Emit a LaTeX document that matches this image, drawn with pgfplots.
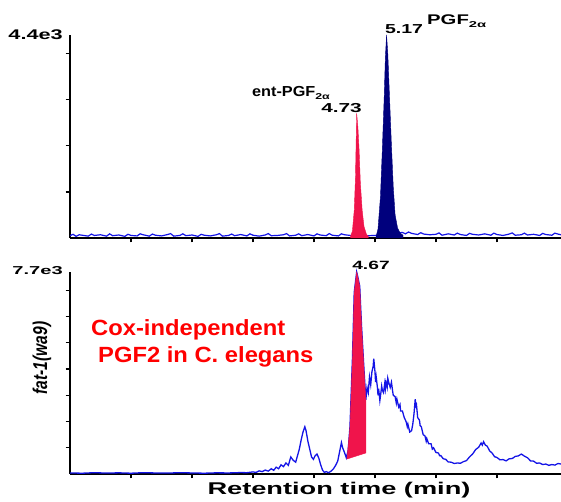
\documentclass[border=0pt]{standalone}
\usepackage{pgfplots}
\pgfplotsset{compat=1.18}
\usepackage{fontspec}
\setmainfont{Liberation Sans}
\usepackage{graphicx}

\definecolor{trace}{RGB}{20,20,230}
\definecolor{peakred}{RGB}{240,20,75}
\definecolor{peaknavy}{RGB}{0,0,125}

\pgfplotsset{
  chrom/.style={
    scale only axis, width=491pt,
    xmin=0, xmax=8.05, ymin=0,
    axis x line=bottom, axis y line=left,
    axis line style={-, line width=2.5pt, black},
    tick align=outside, major tick length=4.5pt,
    tick style={black, line width=1.3pt},
    xtick={1,...,7}, xticklabels={}, yticklabels={},
    clip=false,
  }
}

\begin{document}
\begin{tikzpicture}
\path[use as bounding box] (0,0) rectangle (561pt,502pt);

% top panel: standards
\begin{axis}[chrom, height=203pt, ymax=4400, ytick={1000,2000,3000,4000},
  at={(70pt,264pt)}, anchor=south west]
\addplot[trace, line width=1.2pt] coordinates {
 (0.0,50) (0.05,80) (0.1,35) (0.15,70) (0.2,60) (0.3,40) (0.35,85) (0.4,55) (0.5,70) (0.6,40) (0.65,90) (0.7,50)
 (0.8,65) (0.9,35) (0.95,80) (1.0,55) (1.1,45) (1.15,90) (1.2,70) (1.3,40) (1.35,85) (1.4,60) (1.5,45)
 (1.6,75) (1.65,95) (1.7,40) (1.8,55) (1.85,90) (1.9,50) (2.0,65) (2.1,35) (2.15,80) (2.2,60) (2.3,45)
 (2.4,70) (2.45,95) (2.5,40) (2.6,55) (2.65,85) (2.7,50) (2.8,75) (2.9,45) (2.95,90) (3.0,60) (3.1,40)
 (3.2,65) (3.25,95) (3.3,50) (3.4,55) (3.5,70) (3.55,95) (3.6,45) (3.7,60) (3.75,90) (3.8,50) (3.9,75)
 (4.0,45) (4.05,90) (4.1,65) (4.2,50) (4.25,95) (4.3,60) (4.4,45) (4.45,90) (4.5,70) (4.6,55) (4.9,50)
 (5.0,55) (5.45,120) (5.5,90) (5.55,130) (5.6,100) (5.7,75) (5.75,115) (5.8,85) (5.9,70) (6.0,80)
 (6.05,110) (6.1,60) (6.2,90) (6.3,65) (6.35,105) (6.4,75) (6.5,55) (6.55,100) (6.6,80) (6.7,65) (6.8,90)
 (6.9,60) (6.95,105) (7.0,75) (7.1,55) (7.2,85) (7.25,110) (7.3,60) (7.4,70) (7.45,105) (7.5,65) (7.6,80)
 (7.7,55) (7.75,100) (7.8,75) (7.9,60) (7.95,105) (8.0,85) (8.05,70)
};
\addplot[fill=peakred, draw=peakred, line width=0.4pt] coordinates {
 (4.60,40) (4.63,150) (4.66,600) (4.68,1300) (4.70,2700) (4.72,2400)
 (4.74,1900) (4.76,1200) (4.79,600) (4.82,250) (4.86,80) (4.89,40)
} \closedcycle;
\addplot[fill=peaknavy, draw=peaknavy, line width=0.4pt] coordinates {
 (5.02,40) (5.05,200) (5.09,900) (5.12,1900) (5.15,3000) (5.17,3900)
 (5.19,4400) (5.21,4000) (5.24,3000) (5.27,2000) (5.30,1100) (5.33,500)
 (5.37,220) (5.41,110) (5.46,60)
} \closedcycle;
\end{axis}

% bottom panel: fat-1(wa9)
\begin{axis}[chrom, height=202pt, ymax=7700, ytick={1000,2000,...,7000},
  at={(70pt,28pt)}, anchor=south west]
\addplot[trace, line width=1.3pt] coordinates {
 (0,40) (0.2,30) (0.4,50) (0.6,35) (0.8,45) (1.0,30) (1.2,50) (1.4,40)
 (1.6,35) (1.8,50) (2.0,40) (2.2,30) (2.4,45) (2.6,40) (2.8,55) (2.9,50)
 (3.0,80) (3.05,60) (3.1,120) (3.15,90) (3.2,150) (3.25,110) (3.3,200)
 (3.34,140) (3.38,260) (3.42,200) (3.46,350) (3.5,280) (3.54,420) (3.58,330)
 (3.62,650) (3.66,520) (3.70,450) (3.73,700) (3.76,950) (3.79,1300)
 (3.82,1600) (3.85,1800) (3.87,1650) (3.90,1250) (3.93,950) (3.96,650)
 (3.99,560) (4.02,700) (4.05,760) (4.08,600) (4.11,350) (4.14,150)
 (4.17,60) (4.20,90) (4.24,50) (4.28,110) (4.32,200) (4.36,350) (4.39,500)
 (4.42,850) (4.45,1200) (4.47,1000) (4.50,820) (4.53,620) (4.56,900)
 (4.59,1800) (4.63,4370) (4.66,6930) (4.70,7700) (4.72,7500) (4.75,7160)
 (4.78,5630) (4.82,3980) (4.85,2830) (4.87,3300) (4.89,3100) (4.91,3700)
 (4.93,3400) (4.95,3900) (4.97,4100) (4.98,4400) (5.00,3900) (5.01,3500) (5.02,3700)
 (5.04,3300) (5.05,3000) (5.06,3250) (5.08,2800) (5.10,3150) (5.11,3350) (5.12,3200) (5.14,3100)
 (5.16,3450) (5.17,3250) (5.18,3500) (5.20,3300) (5.21,3650) (5.23,3450) (5.25,3300) (5.27,3500)
 (5.29,3150) (5.30,3000) (5.33,2950) (5.35,2700) (5.36,2850) (5.39,2550) (5.41,2650) (5.42,2400) (5.45,2400)
 (5.48,2150) (5.51,2000) (5.53,1800) (5.54,1900) (5.57,1600) (5.60,1650) (5.62,1900)
 (5.64,2300) (5.66,2850) (5.67,2600) (5.68,2650) (5.70,2150) (5.73,2050) (5.74,1850) (5.76,1800)
 (5.79,1500) (5.82,1450) (5.84,1250) (5.85,1350) (5.88,1150) (5.92,1150) (5.94,950) (5.96,1000)
 (6.00,820) (6.04,800) (6.06,700) (6.08,700) (6.12,580) (6.16,560) (6.20,460)
 (6.25,450) (6.30,400) (6.35,420) (6.40,410) (6.45,470) (6.50,510)
 (6.55,650) (6.60,760) (6.65,930) (6.70,1020) (6.74,1180) (6.76,1100) (6.78,1230)
 (6.81,1100) (6.84,1060) (6.88,880) (6.92,800) (6.96,660) (7.00,630)
 (7.05,540) (7.10,550) (7.15,500) (7.20,580) (7.25,590) (7.30,670)
 (7.35,690) (7.40,760) (7.45,680) (7.50,620) (7.55,500) (7.60,490)
 (7.65,410) (7.70,420) (7.75,360) (7.80,380) (7.85,330) (7.90,360)
 (7.95,340) (8.00,400) (8.05,380)
};
\addplot[fill=peakred, draw=peakred, line width=0.4pt] coordinates {
 (4.54,570) (4.59,1800) (4.63,4370) (4.66,6930) (4.70,7700) (4.72,7500)
 (4.75,7160) (4.78,5630) (4.82,3980) (4.85,2830) (4.85,800)
} -- cycle;
\end{axis}

% labels
\node[anchor=base east, inner sep=0] at (63pt,462pt)
  {\fontsize{14}{14}\selectfont\bfseries\scalebox{1.55}[1]{4.4e3}};
\node[anchor=base west, inner sep=0] at (252pt,405pt)
  {\fontsize{14.5}{14.5}\selectfont\bfseries\scalebox{1.12}[1]{ent-PGF\raisebox{-3pt}{\fontsize{8.5}{8.5}\selectfont\scalebox{1.3}[1]{2α}}}};
\node[anchor=base, inner sep=0] at (341.5pt,389pt)
  {\fontsize{13}{13}\selectfont\bfseries\scalebox{1.6}[1]{4.73}};
\node[anchor=base, inner sep=0] at (404pt,468pt)
  {\fontsize{13}{13}\selectfont\bfseries\scalebox{1.5}[1]{5.17}};
\node[anchor=base west, inner sep=0] at (427pt,477pt)
  {\fontsize{14}{14}\selectfont\bfseries\scalebox{1.45}[1]{PGF\raisebox{-3pt}{\fontsize{8.5}{8.5}\selectfont\scalebox{1.2}[1]{2α}}}};
\node[anchor=base east, inner sep=0] at (63pt,227pt)
  {\fontsize{11.5}{11.5}\selectfont\bfseries\scalebox{1.75}[1]{7.7e3}};
\node[anchor=base, inner sep=0] at (371pt,232pt)
  {\fontsize{12}{12}\selectfont\bfseries\scalebox{1.6}[1]{4.67}};
\node[anchor=base west, inner sep=0, text=red] at (91pt,166pt)
  {\fontsize{22}{22}\selectfont\bfseries\scalebox{1.08}[1]{Cox-independent}};
\node[anchor=base west, inner sep=0, text=red] at (98pt,139pt)
  {\fontsize{22}{22}\selectfont\bfseries\scalebox{1.08}[1]{PGF2 in C. elegans}};
\node[rotate=90, inner sep=0] at (42pt,144pt)
  {\fontsize{20}{20}\selectfont\bfseries\itshape\scalebox{0.78}[1]{fat-1(wa9)}};
\node[anchor=base, inner sep=0] at (339pt,7pt)
  {\fontsize{17}{17}\selectfont\bfseries\scalebox{1.6}[1]{Retention time (min)}};
\end{tikzpicture}
\end{document}
